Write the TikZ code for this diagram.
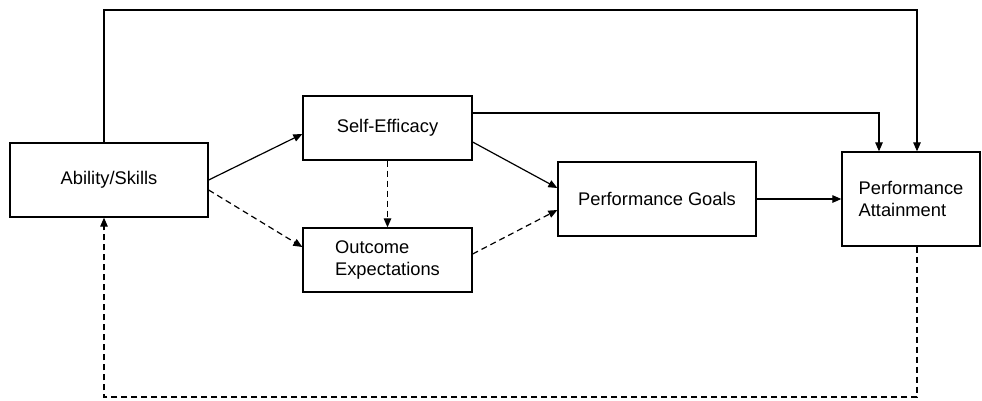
\documentclass[tikz,border=0pt]{standalone}
\usepackage{fontspec}
\setmainfont{Liberation Sans}
\usetikzlibrary{arrows.meta}
\begin{document}
\begin{tikzpicture}[x=1pt,y=-1pt,
  box/.style={draw, line width=1.3pt, inner sep=0pt, align=left, font=\fontsize{18.3}{22.5}\selectfont},
  arr/.style={line width=1.2pt, -{Triangle[length=9pt,width=7.5pt]}},
  darr/.style={arr, dash pattern=on 6pt off 4pt}]
\useasboundingbox (0,0) rectangle (982,400);
\node[box, minimum width=198pt, minimum height=74pt] (A) at (109,180) {Ability/Skills};
\node[box, minimum width=169pt, minimum height=64pt] (SE) at (387.5,128) {Self-Efficacy};
\node[box, minimum width=169pt, minimum height=64pt] (OE) at (387.5,260) {Outcome\\Expectations};
\node[box, minimum width=198pt, minimum height=74pt] (PG) at (657,199) {Performance Goals};
\node[box, minimum width=138pt, minimum height=94pt] (PA) at (911,199) {Performance\\Attainment};
\coordinate (t1) at (104,10);
\coordinate (t2) at (917,10);
\coordinate (s1) at (879,113);
\coordinate (b1) at (104,397);
\coordinate (b2) at (917,397);
\draw[arr] (t1 |- A.north) -- (t1) -- (t2) -- (t2 |- PA.north);
\draw[arr] (SE.east |- s1) -- (s1) -- (s1 |- PA.north);
\draw[arr] (A.east) -- ([yshift=-6pt]SE.west);
\draw[darr] ([yshift=-10pt]A.east) -- ([yshift=13pt]OE.west);
\draw[darr] (SE.south) -- (OE.north);
\draw[arr] ([yshift=-14pt]SE.east) -- ([yshift=11pt]PG.west);
\draw[darr] ([yshift=6pt]OE.east) -- ([yshift=-11pt]PG.west);
\draw[arr] (PG.east) -- (PA.west);
\draw[darr] (b2 |- PA.south) -- (b2) -- (b1) -- (b1 |- A.south);
\end{tikzpicture}
\end{document}
